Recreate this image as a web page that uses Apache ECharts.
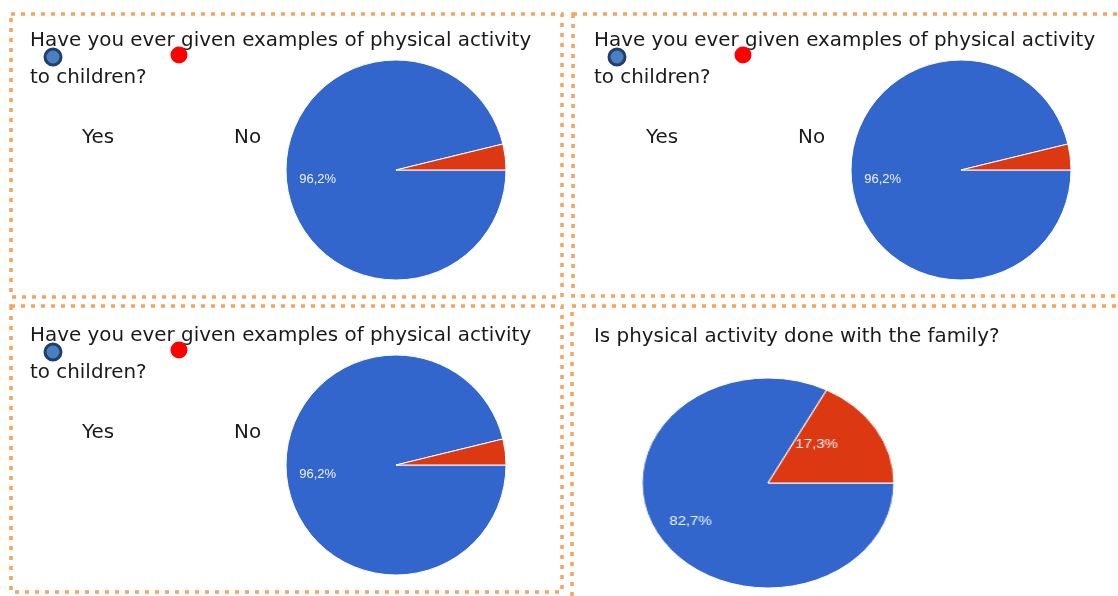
<!DOCTYPE html>
<html><head><meta charset="utf-8">
<script src="https://cdn.jsdelivr.net/npm/echarts@6/dist/echarts.min.js"></script>
<style>
html,body{margin:0;padding:0;background:#fff;}
#main{position:absolute;left:0;top:0;width:1118px;height:596px;}
#p4{position:absolute;left:648px;top:363px;width:240px;height:240px;transform:scaleX(1.2);transform-origin:50% 50%;}
</style></head>
<body>
<div id="main"></div>
<div id="p4"></div>
<script>
// ---- data ----
const categories = ['Yes', 'No'];
const q1Title = ['Have you ever given examples of physical activity', 'to children?'];
const q1Values = [96.2, 3.8];
const q2Title = 'Is physical activity done with the family?';
const q2Values = [82.7, 17.3];

// ---- styles ----
const BLUE = '#3366cc', RED = '#dc3912';
const BORDER = '#f7a35e';
const fmt = p => p.value.toFixed(1).replace('.', ',') + '%';
const titleFont = { fontFamily: 'DejaVu Sans', fontSize: 19.9, fill: '#1a1a1a' };

function pieData(vals, labelIdx, labelOffset) {
  return categories.map((c, i) => ({
    name: c, value: vals[i],
    itemStyle: { color: i === 0 ? BLUE : RED },
    label: { show: labelIdx.indexOf(i) >= 0, offset: labelOffset || [0, 0] }
  }));
}
function labelOverlay(vals, center, r, labelIdx, fs) {
  return {
    type: 'pie', silent: true, center: center, radius: [0, r * 1.38],
    startAngle: 0, clockwise: true, animation: false,
    data: categories.map((c, i) => ({ name: c, value: vals[i], itemStyle: { color: 'rgba(0,0,0,0)' },
      label: { show: labelIdx.indexOf(i) >= 0 } })),
    label: { position: 'inside', formatter: fmt, color: '#eef2fb', fontFamily: 'Liberation Sans', fontSize: fs || 13 },
    labelLine: { show: false }, emphasis: { disabled: true }
  };
}
function mainPie(vals, center, r, labelIdx, fs, labelOffset) {
  return {
    type: 'pie', center: center, radius: [0, r], startAngle: 0, clockwise: true, animation: false,
    data: pieData(vals, labelIdx, labelOffset),
    itemStyle: { borderColor: '#ffffff', borderWidth: 1 },
    label: { position: 'inside', formatter: fmt, color: '#eef2fb', fontFamily: 'Liberation Sans', fontSize: fs || 13 },
    labelLine: { show: false }, emphasis: { disabled: true }
  };
}

// panel frames
const frames = [
  [11, 14, 551, 283],
  [573, 14, 560, 282],
  [11, 306, 551, 286],
  [572, 306, 560, 300]
];
const graphics = frames.map(f => ({
  type: 'rect', shape: { x: f[0], y: f[1], width: f[2], height: f[3] },
  style: { fill: 'none', stroke: BORDER, lineWidth: 3.5, lineDash: [4, 6] }, silent: true
}));

// legend-like markers and title texts for panels 1-3
const panelOrigins = [[0, 0], [564, 0], [0, 295]];
panelOrigins.forEach(o => {
  const dx = o[0], dy = o[1];
  graphics.push({ type: 'text', left: 30 + dx, top: 31 + dy, style: Object.assign({ text: q1Title[0] }, titleFont) });
  graphics.push({ type: 'text', left: 30 + dx, top: 68 + dy, style: Object.assign({ text: q1Title[1] }, titleFont) });
  graphics.push({ type: 'circle', shape: { cx: 53 + dx, cy: 57 + dy, r: 8 },
    style: { fill: '#4b7fc3', stroke: '#20406b', lineWidth: 3 }, z: 10 });
  graphics.push({ type: 'circle', shape: { cx: 179 + dx, cy: 55 + dy, r: 8.5 },
    style: { fill: '#ff0000' }, z: 10 });
  graphics.push({ type: 'text', left: 82 + dx, top: 128 + dy, style: Object.assign({ text: categories[0] }, titleFont) });
  graphics.push({ type: 'text', left: 234 + dx, top: 128 + dy, style: Object.assign({ text: categories[1] }, titleFont) });
});
graphics.push({ type: 'text', left: 594, top: 327, style: Object.assign({ text: q2Title }, titleFont) });

const chart = echarts.init(document.getElementById('main'), null, { renderer: 'canvas' });
chart.setOption({
  backgroundColor: '#ffffff',
  animation: false,
  graphic: graphics,
  series: [
    mainPie(q1Values, [396, 170], 110, []),
    labelOverlay(q1Values, [396, 170], 110, [0]),
    mainPie(q1Values, [961, 170], 110, []),
    labelOverlay(q1Values, [961, 170], 110, [0]),
    mainPie(q1Values, [396, 465], 110, []),
    labelOverlay(q1Values, [396, 465], 110, [0])
  ]
});

const chart4 = echarts.init(document.getElementById('p4'), null, { renderer: 'canvas' });
chart4.setOption({
  animation: false,
  series: [
    mainPie(q2Values, ['50%', '50%'], 105, [1], 12.5, [-7, -10]),
    labelOverlay(q2Values, ['50%', '50%'], 105, [0], 12.5)
  ]
});
</script>
</body></html>
